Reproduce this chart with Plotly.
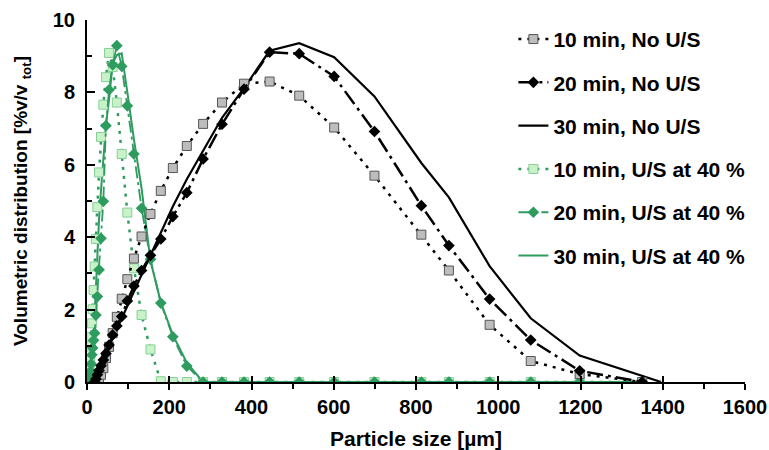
import plotly.graph_objects as go

# ---------------- data ----------------
x_10_nous = [21.7, 25.2, 29.3, 34.1, 39.7, 46.1, 53.6, 62.4, 72.5, 84.4, 98.1, 114.1, 132.7, 154.3,
             179.5, 208.7, 242.7, 282.3, 328.3, 381.8, 444, 516, 601, 699, 813, 880, 979, 1079, 1198, 1350]
y_10_nous = [0.0, 0.03, 0.09, 0.2, 0.38, 0.66, 0.97, 1.35, 1.8, 2.3, 2.84, 3.41, 4.02, 4.64,
             5.28, 5.91, 6.52, 7.13, 7.72, 8.24, 8.30, 7.91, 7.03, 5.70, 4.07, 3.08, 1.58, 0.58, 0.22, 0.0]

x_20_nous = [18.6, 21.7, 25.2, 29.3, 34.1, 39.7, 46.1, 53.6, 62.4, 72.5, 84.4, 98.1, 114.1, 132.7, 154.3,
             179.5, 208.7, 242.7, 282.3, 328.3, 381.8, 444, 516, 601, 699, 813, 880, 979, 1079, 1198, 1350]
y_20_nous = [0.0, 0.08, 0.2, 0.32, 0.45, 0.61, 0.79, 1.02, 1.3, 1.55, 1.81, 2.24, 2.65, 3.08, 3.5,
             3.95, 4.57, 5.23, 6.16, 7.12, 8.09, 9.11, 9.07, 8.44, 6.92, 4.87, 3.77, 2.29, 1.16, 0.31, 0.0]

x_30_nous = [13.8, 16.0, 18.6, 21.7, 25.2, 29.3, 34.1, 39.7, 46.1, 53.6, 62.4, 72.5, 84.4, 98.1, 114.1, 132.7, 154.3,
             179.5, 208.7, 242.7, 282.3, 328.3, 381.8, 444, 516, 601, 699, 813, 880, 979, 1079, 1198, 1396]
y_30_nous = [0.0, 0.04, 0.1, 0.18, 0.27, 0.37, 0.5, 0.64, 0.8, 0.98, 1.2, 1.45, 1.75, 2.1, 2.5, 2.98, 3.52,
             4.15, 4.85, 5.6, 6.4, 7.3, 8.12, 9.15, 9.36, 8.97, 7.89, 6.05, 5.1, 3.2, 1.76, 0.73, 0.0]

x_us = [5.6, 6.5, 7.5, 8.8, 10.2, 11.9, 13.8, 16.0, 18.6, 21.7, 25.2, 29.3, 34.1, 39.7, 46.1, 53.6, 62.4, 72.5,
        84.4, 98.1, 114.1, 132.7, 154.3, 179.5, 208.7, 242.7, 282.3, 328.3, 381.8, 444, 516, 601, 699, 813,
        880, 979, 1079, 1198, 1350]
y_10_us = [0.1, 0.3, 0.6, 0.98, 1.25, 1.62, 2.01, 2.54, 3.19, 3.95, 4.83, 5.79, 6.77, 7.66, 8.42, 9.09, 8.7, 7.72,
           6.30, 4.68, 3.14, 1.85, 0.9, 0.02, 0, 0, 0, 0, 0, 0, 0, 0, 0, 0,
           0, 0, 0, 0, 0]
y_20_us = [0.0, 0.05, 0.15, 0.3, 0.5, 0.75, 0.94, 1.15, 1.35, 1.85, 2.36, 3.1, 3.97, 4.99, 7.08, 8.07, 8.76, 9.29,
           8.72, 7.63, 6.30, 4.80, 3.39, 2.18, 1.25, 0.44, 0.0, 0, 0, 0, 0, 0, 0, 0,
           0, 0, 0, 0, 0]
y_30_us = [0.0, 0.0, 0.0, 0.0, 0.1, 0.4, 0.8, 1.3, 1.9, 2.6, 3.5, 4.5, 5.3, 6.2, 7.1, 7.8, 8.8, 9.03,
           9.08, 8.0, 6.7, 5.35, 3.35, 2.2, 1.3, 0.53, 0.0, 0, 0, 0, 0, 0, 0, 0,
           0, 0, 0, 0, 0]

names = ["10 min, No U/S", "20 min, No U/S", "30 min, No U/S",
         "10 min, U/S at 40 %", "20 min, U/S at 40 %", "30 min, U/S at 40 %"]

x_ticks = [0, 200, 400, 600, 800, 1000, 1200, 1400, 1600]
y_ticks = [0, 2, 4, 6, 8, 10]

GREEN = "#2e9b5f"
LIGHT = "#c9f2c9"
LIGHT_EDGE = "#86cf98"
GRAY = "#bdbdbd"
FONT = "Liberation Sans, Arial, sans-serif"

fig = go.Figure()

fig.add_trace(go.Scatter(x=x_us, y=y_30_us, name=names[5], mode="lines",
                         line=dict(color=GREEN, width=2), legendgroup="g6", legendrank=6))
fig.add_trace(go.Scatter(x=x_us, y=y_10_us, name=names[3], mode="lines+markers",
                         line=dict(color=GREEN, width=2.5, dash="3px,6px"),
                         marker=dict(symbol="square", size=9, color=LIGHT, line=dict(color=LIGHT_EDGE, width=1)),
                         legendgroup="g4", legendrank=4))
fig.add_trace(go.Scatter(x=x_us, y=y_20_us, name=names[4], mode="lines+markers",
                         line=dict(color=GREEN, width=1.8, dash="12px,4px,3px,4px"),
                         marker=dict(symbol="diamond", size=9, color=GREEN, line=dict(width=0)),
                         legendgroup="g5", legendrank=5))

fig.add_trace(go.Scatter(x=x_30_nous, y=y_30_nous, name=names[2], mode="lines",
                         line=dict(color="black", width=2.2), legendgroup="g3", legendrank=3))
fig.add_trace(go.Scatter(x=x_10_nous, y=y_10_nous, name=names[0], mode="lines+markers",
                         line=dict(color="black", width=2.5, dash="3px,6px"),
                         marker=dict(symbol="square", size=9, color=GRAY, line=dict(color="#555555", width=1)),
                         legendgroup="g1", legendrank=1))
fig.add_trace(go.Scatter(x=x_20_nous, y=y_20_nous, name=names[1], mode="lines+markers",
                         line=dict(color="black", width=2.5, dash="16px,5px,3px,5px"),
                         marker=dict(symbol="diamond", size=9, color="black", line=dict(width=0)),
                         legendgroup="g2", legendrank=2))

tickfont = dict(family=FONT, size=20, color="black", weight="bold")

fig.update_layout(
    width=769, height=450,
    margin=dict(l=87, r=24, t=20, b=68, autoexpand=False),
    paper_bgcolor="white", plot_bgcolor="white",
    font=dict(family=FONT, color="black"),
    showlegend=True,
    legend=dict(x=0.648, y=1.003, xanchor="left", yanchor="top",
                bgcolor="rgba(0,0,0,0)", tracegroupgap=13, itemwidth=30, maxheight=420,
                font=dict(family=FONT, size=21, color="black", weight="bold")),
    xaxis=dict(range=[0, 1600], tickvals=x_ticks, ticktext=[str(v) for v in x_ticks],
               showgrid=False, zeroline=False, showline=True, linecolor="black", linewidth=2,
               ticks="outside", ticklen=6, tickwidth=2, tickcolor="black", automargin=False,
               minor=dict(dtick=100, ticks="outside", ticklen=5, tickwidth=1.5, tickcolor="black"),
               tickfont=tickfont,
               title=dict(text="Particle size [µm]",
                          font=dict(family=FONT, size=21, color="black", weight="bold"))),
    xaxis2=dict(range=[0, 1600], overlaying="x", anchor="y", side="bottom", tickvals=x_ticks,
                showticklabels=False, showgrid=False, zeroline=False, showline=False,
                ticks="inside", ticklen=6, tickwidth=2, tickcolor="black"),
    yaxis=dict(range=[0, 10], tickvals=y_ticks, ticktext=[str(v) for v in y_ticks],
               showgrid=False, zeroline=False, showline=True, linecolor="black", linewidth=2,
               ticks="inside", ticklen=8, tickwidth=2, tickcolor="black", automargin=False,
               minor=dict(dtick=1, ticks="inside", ticklen=5, tickwidth=1.5, tickcolor="black"),
               tickfont=tickfont, ticklabelstandoff=6,
               title=dict(text="Volumetric distribution [%v/v <sub>tot</sub>]", standoff=20,
                          font=dict(family=FONT, size=19, color="black", weight="bold"))),
)
fig.add_trace(go.Scatter(x=[0], y=[0], xaxis="x2", mode="markers", marker=dict(opacity=0),
                         showlegend=False, hoverinfo="skip"))

fig.write_html("out.html")
